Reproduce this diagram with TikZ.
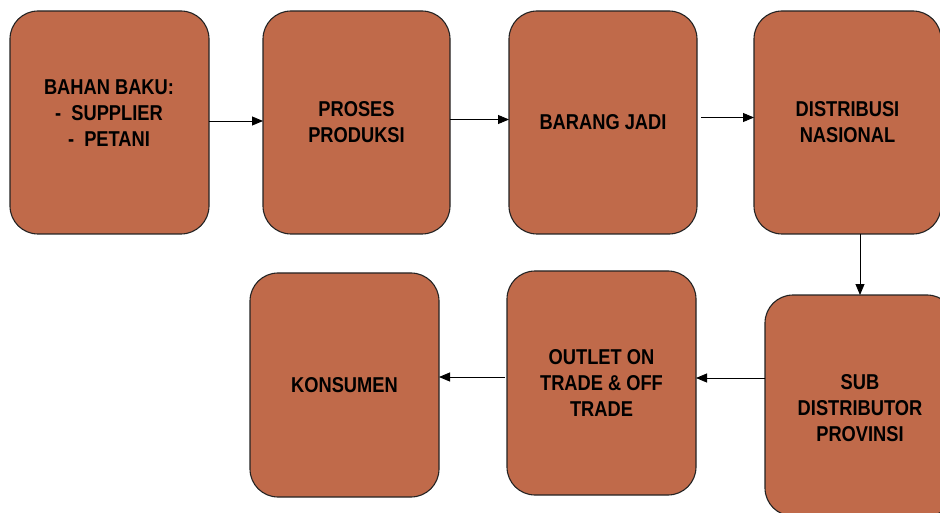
\documentclass[tikz,border=0pt]{standalone}
\usepackage{fontspec}
\newfontfamily\boxfont{Liberation Sans}[FakeStretch=0.85]
\usetikzlibrary{arrows.meta}
\definecolor{boxfill}{RGB}{192,106,74}
\definecolor{boxline}{RGB}{35,35,35}
\tikzset{
  flowbox/.style={draw=boxline, line width=1.1pt, fill=boxfill, rounded corners=28pt,
    inner sep=0pt, outer sep=0pt, align=center,
    font=\boxfont\bfseries\fontsize{21.5}{26}\selectfont},
  boxtext/.style={inner sep=0pt, align=center,
    font=\boxfont\bfseries\fontsize{21.5}{26}\selectfont},
  flowarrow/.style={draw=black, line width=0.9pt, -{Triangle[length=11pt,width=9pt]}}
}
\begin{document}
\begin{tikzpicture}[x=1pt,y=-1pt]
\useasboundingbox (0,0) rectangle (940,513);
\clip (0,0) rectangle (940,513);
\node[flowbox, minimum width=199pt, minimum height=223pt] (b1) at (109.5,122.5) {};
\node[boxtext] (t1) at (109,113) {BAHAN BAKU:\\ -\ \ SUPPLIER\\ -\ \ PETANI\hspace{14pt}};
\node[flowbox, minimum width=187pt, minimum height=223pt] (b2) at (356.5,122.5) {PROSES\\PRODUKSI};
\node[flowbox, minimum width=188pt, minimum height=223pt] (b3) at (603,122.5) {BARANG JADI};
\node[flowbox, minimum width=187pt, minimum height=223pt] (b4) at (847.5,122.5) {DISTRIBUSI\\NASIONAL};
\node[flowbox, minimum width=190pt, minimum height=221pt] (b5) at (860,405.5) {};
\node[boxtext] (t5) at (860,408) {SUB\\DISTRIBUTOR\\PROVINSI};
\node[flowbox, minimum width=189pt, minimum height=224pt] (b6) at (601.5,383) {OUTLET ON\\TRADE \& OFF\\TRADE};
\node[flowbox, minimum width=189pt, minimum height=224pt] (b7) at (344.5,385) {KONSUMEN};
\draw[flowarrow] ([yshift=1.5pt]b1.east) -- ([yshift=1.5pt]b2.west);
\draw[flowarrow] ([yshift=3pt]b2.east) -- ([yshift=3pt]b3.west);
\draw[flowarrow] ([xshift=4pt,yshift=5pt]b3.east) -- ([yshift=5pt]b4.west);
\draw[flowarrow] (b4.south -| b5.north) -- (b5.north);
\draw[flowarrow] (b5.west |- 0,378) -- (b6.east |- 0,378);
\draw[flowarrow] ([xshift=-2pt,yshift=6pt]b6.west) -- ([yshift=8pt]b7.east);
\end{tikzpicture}
\end{document}
